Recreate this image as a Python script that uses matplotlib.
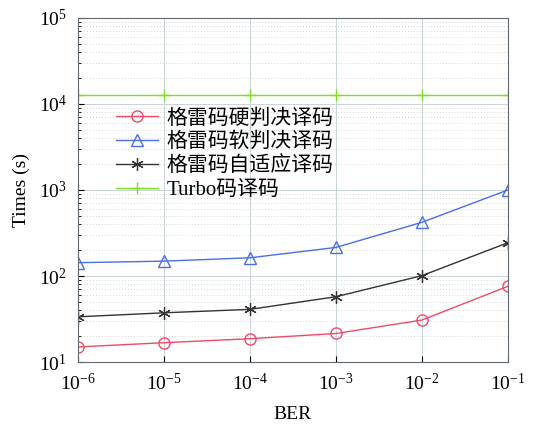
import numpy as np
import matplotlib.pyplot as plt

# data
ber = [1e-6, 1e-5, 1e-4, 1e-3, 1e-2, 1e-1]
hard = [15, 16.8, 18.7, 21.5, 30.8, 76]
soft = [143, 149, 163, 215, 421, 1000]
adaptive = [33.6, 37.4, 41, 57.5, 101, 244]
turbo = [12700] * 6
labels = ['格雷码硬判决译码', '格雷码软判决译码', '格雷码自适应译码', 'Turbo码译码']

plt.rcParams['font.family'] = ['Liberation Serif', 'Noto Sans CJK SC']
plt.rcParams['mathtext.fontset'] = 'stix'

fig = plt.figure(figsize=(5.42, 4.26), dpi=100)
ax = fig.add_axes([0.144, 0.150, 0.793, 0.808])

ax.plot(ber, hard, color='#f04a68', lw=1, marker='o', ms=8, mfc='none', label=labels[0])
ax.plot(ber, soft, color='#4a6ee8', lw=1, marker='^', ms=8, mfc='none', label=labels[1])
ax.plot(ber, adaptive, color='#333333', lw=1, marker=(6, 2, 0), ms=9, mew=0.9, label=labels[2])
ax.plot(ber, turbo, color='#7ee020', lw=1, marker='+', ms=9, label=labels[3])

ax.set_xscale('log')
ax.set_yscale('log')
ax.set_xlim(1e-6, 1e-1)
ax.set_ylim(1e1, 1e5)
ax.set_xticks(ber)
ax.set_yticks([1e1, 1e2, 1e3, 1e4, 1e5])
ax.tick_params(which='both', direction='in', labelsize=14, pad=8)
ax.tick_params(axis='x', which='minor', bottom=False, top=False)
ax.tick_params(which='major', length=4)
ax.tick_params(which='minor', length=2)
ax.grid(True, which='major', color='#c8d4d8', lw=0.7)
ax.grid(True, which='minor', axis='y', color='#c8c8c8', lw=0.6, ls=(0, (1, 2.5)))
for s in ax.spines.values():
    s.set_color('#606870')

ax.set_xlabel('BER', fontsize=14, labelpad=8)
ax.set_ylabel('Times (s)', fontsize=14, labelpad=6)

leg = ax.legend(loc='upper left', bbox_to_anchor=(0.07, 0.76), fontsize=15,
                frameon=False, handlelength=2.0, handletextpad=0.4,
                labelspacing=0.2, borderaxespad=0)

fig.savefig('out.png', dpi=100)
